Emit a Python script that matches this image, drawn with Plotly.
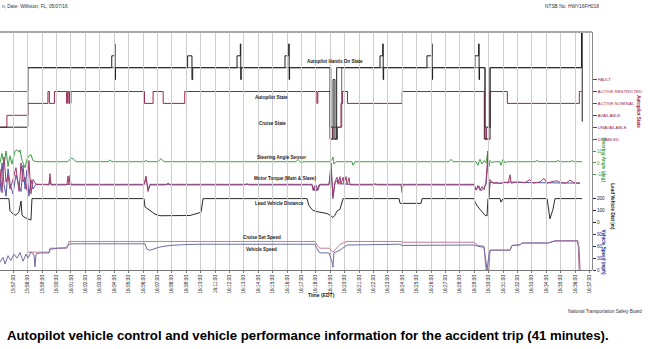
import plotly.graph_objects as go

# ---------------- time axis (minutes from first tick) ----------------
TICK_LABELS = [
    "15:56:00", "15:57:00", "15:58:00", "15:59:00", "16:00:00", "16:01:00", "16:02:00",
    "16:03:00", "16:04:00", "16:05:00", "16:06:00", "16:07:00", "16:08:00", "16:09:00",
    "16:10:00", "16:11:00", "16:12:00", "16:13:00", "16:14:00", "16:15:00", "16:16:00",
    "16:17:00", "16:18:00", "16:19:00", "16:20:00", "16:21:00", "16:22:00", "16:23:00",
    "16:24:00", "16:25:00", "16:26:00", "16:27:00", "16:28:00", "16:29:00", "16:30:00",
    "16:31:00", "16:32:00", "16:33:00", "16:34:00", "16:35:00", "16:36:00", "16:37:00",
]
TICK_POS = list(range(len(TICK_LABELS)))

# ---------------- Autopilot Hands On State ----------------
HANDS_T = [0.07, 2.0, 7.83, 8.03, 8.06, 8.09, 13.1, 13.4, 13.45, 16.53, 16.76, 16.79, 16.82,
           19.86, 20.12, 20.15, 20.18, 22.99, 23.2, 23.33, 23.45, 26.46, 26.65, 26.68, 26.71,
           29.72, 30.05, 30.08, 30.11, 33.05, 33.31, 33.34, 33.37, 33.75, 34.1, 40.45, 40.5, 40.55]
HANDS_V = [-4, 1, 2, 3, 0, 1, 2, 0, 1, 2, 3, 0, 1,
           2, 3, 0, 1, -5, 0, -5, 1, 2, 3, 0, 1,
           2, 3, 0, 1, 2, 3, 0, 1, -5, 1, 4, -3.5, -3.5]

# ---------------- Autopilot State (0 = DISABLED ... 5 = FAULT) ----------------
AP_STATES = ["DISABLED", "UNAVAILABLE", "AVAILABLE", "ACTIVE NOMINAL", "ACTIVE RESTRICTED", "FAULT"]
AP_T = [0.07, 0.55, 2.0, 3.4, 3.5, 3.85, 4.7, 4.75, 4.85, 4.9, 4.95, 5.0, 10.1, 10.7, 11.4, 12.9,
        22.08, 22.14, 23.0, 23.15, 23.5, 23.75, 23.85, 24.2, 28.0, 33.7, 33.85, 34.1, 35.3, 40.3, 40.45]
AP_V = [1, 2, 3, 4, 3, 4, 3, 4, 3, 4, 3, 4, 3, 4, 3, 4,
        3, 4, 1, 0, 1, 3, 4, 3, 4, 0, 1, 4, 3, 4, 4]

# ---------------- Cruise State ----------------
CRUISE_T = [0.07, 2.0, 23.05, 23.8, 33.75, 34.1, 40.45]
CRUISE_V = [4, 6, 1, 6, 1, 6, 6]

# ---------------- Steering Angle Sensor (deg) ----------------
STEER_T = [0.07, 0.21, 0.35, 0.49, 0.63, 0.76, 0.9, 1.11, 1.25, 1.39, 1.46, 1.6, 1.81, 1.94, 2.08,
           2.22, 2.36, 2.57, 2.85, 4.79, 5.0, 5.14, 5.35, 7.57, 7.71, 7.85, 10.07, 10.21, 10.35,
           11.04, 11.25, 11.46, 20.63, 20.76, 20.97, 21.11, 22.99, 23.13, 23.19, 23.26, 23.4,
           24.51, 24.58, 24.72, 31.25, 31.39, 31.53, 33.13, 33.26, 33.4, 33.54, 33.68, 33.82,
           33.96, 34.03, 34.1, 34.24, 34.38, 34.79, 34.86, 35.0, 35.14, 35.28, 37.22, 37.36,
           37.5, 38.68, 38.82, 38.96, 39.65, 39.79, 39.93, 40.49]
STEER_V = [0, 8, -2, 10, -3, 6, -1, 10, 11, 9, 11, 2, -4, 3, 6,
           7, 2, 1, 1, 1, 4, 3.5, 1, 1, 2.5, 1, 1, 2, 1,
           1, 3.5, 1, 1, 3, 0, 1, 1, 3, 5, -1, 1,
           1, -2, 1, 1, 3, 1, 1, -2, 3, -1, 2, 0,
           10, -3, 2, 0, 1, 1, -2, 3, 0, 1, 1, 2,
           1, 1, 2, 1, 1, 2, 1, 1]

# ---------------- Motor Torque (Main & Slave) ----------------
TQ_MAIN_T = [0.07, 0.21, 0.35, 0.49, 0.63, 0.76, 0.97, 1.18, 1.39, 1.53, 1.67, 1.81, 1.94, 2.08,
             2.22, 2.36, 2.57, 3.47, 3.54, 3.61, 4.72, 4.79, 4.86, 4.93, 5.0, 10.07, 10.21, 10.35,
             10.49, 11.6, 11.74, 11.88, 17.08, 17.22, 17.36, 21.74, 21.81, 21.94, 22.08, 22.22,
             22.92, 23.06, 23.19, 23.33, 23.47, 23.54, 23.68, 23.75, 23.89, 23.96, 24.1, 24.17,
             24.31, 24.38, 25.97, 26.11, 26.25, 27.92, 27.99, 28.06, 32.99, 33.13, 33.26, 33.4,
             33.54, 33.68, 33.82, 33.96, 34.03, 34.1, 34.31, 34.58, 34.79, 35.07, 35.35, 35.49,
             35.56, 36.04, 36.53, 36.87, 37.08, 37.57, 37.85, 38.06, 38.47, 38.75, 38.96, 39.38,
             39.65, 39.93, 40.21, 40.35]
TQ_MAIN_V = [150, -50, 250, 40, 100, -20, 60, 160, -40, 200, 40, 80, -30, 220,
             -60, 60, 20, 15, 110, 15, 15, 90, 15, 95, 15, 15, 90, -40,
             15, 15, 30, 15, 15, 25, 15, 15, -30, 10, -35, 15,
             15, 150, -80, 40, 80, 20, 85, 20, 80, 25, 85, 20,
             75, 15, 15, 25, 15, 15, -50, 15, 15, -30, 10, -30,
             0, -25, 40, 300, -90, 60, 30, 35, 25, 40, 30, 100,
             30, 40, 35, 60, 30, 40, 70, 30, 45, 50, 35, 30,
             55, 35, 30, 30]
TQ_SLAVE_T = [0.07, 0.21, 0.35, 0.49, 0.63, 0.76, 0.97, 1.18, 1.39, 1.53, 1.67, 1.81, 1.94, 2.08,
              2.22, 2.36, 2.57, 3.47, 3.54, 3.61, 10.07, 10.21, 10.35, 10.49, 21.74, 21.88, 22.01,
              22.15, 22.29, 22.92, 23.06, 23.19, 23.33, 23.54, 23.68, 24.38, 32.99, 33.13, 33.33,
              33.47, 33.68, 33.82, 33.96, 34.03, 34.1, 34.38, 34.79, 35.49, 36.18, 40.35]
TQ_SLAVE_V = [-40, 200, 20, -80, 150, 30, -60, 100, 10, -40, 180, -20, 140, -80,
              60, -20, 20, 20, 60, 20, 20, 60, -20, 20, 20, -35, 15,
              -30, 20, 20, 200, -100, 30, 60, 25, 20, 20, -25, 5,
              -35, -10, 20, 220, -70, 40, 30, 30, 40, 35, 30]

# ---------------- Lead Vehicle Distance (m) ----------------
LEAD_T = [0.07, 0.69, 0.76, 0.97, 1.18, 1.39, 1.53, 1.6, 1.81, 2.01, 2.22, 2.29,
          10.07, 10.14, 10.49, 10.83, 11.18, 12.22, 13.26, 13.75, 14.03, 14.17,
          21.39, 21.53, 21.81, 22.29, 22.78, 23.06, 23.19, 23.33, 23.47, 23.68, 23.89,
          27.78, 27.85, 29.31, 29.38, 32.99, 33.06, 33.26, 33.47, 33.75, 33.89, 33.96,
          34.79, 34.86, 35.0, 38.06, 38.26, 38.47, 38.61, 40.49]
LEAD_V = [200, 200, 100, 70, 60, 90, 180, 60, 40, 30, 20, 200,
          200, 130, 100, 70, 56, 55, 58, 75, 85, 200,
          200, 140, 100, 85, 75, 55, 40, 60, 95, 110, 200,
          200, 160, 160, 200, 200, 170, 130, 100, 60, 55, 200,
          200, 170, 200, 200, 30, 110, 200, 200]

# ---------------- Cruise Set Speed / Vehicle Speed (mph) ----------------
SET_T = [2.01, 3.47, 3.54, 4.72, 4.86, 21.94, 22.15, 22.29, 22.92, 23.19, 23.68, 24.17,
         27.85, 27.99, 32.99, 33.26, 33.68, 33.82, 34.03, 34.1, 35.49, 35.63, 36.18, 36.32,
         38.13, 38.4, 38.61, 40.14, 40.21, 40.28]
SET_V = [45, 45, 55, 55, 72, 72, 60, 55, 55, 45, 65, 72,
         72, 70, 70, 62, 60, 0, 0, 50, 50, 62, 64, 68,
         68, 71, 74, 74, 74, 0]
SPEED_T = [0.07, 0.28, 0.42, 0.63, 0.83, 1.04, 1.25, 1.46, 1.67, 1.88, 2.01, 2.22, 2.43, 2.5,
           2.57, 2.85, 3.47, 3.54, 4.1, 4.65, 4.79, 4.93, 5.07, 10.14, 10.28, 10.49, 11.18,
           11.88, 12.92, 13.96, 21.94, 22.22, 22.36, 22.92, 23.13, 23.19, 23.26, 23.68, 24.17,
           27.85, 27.99, 32.99, 33.26, 33.68, 33.82, 33.89, 34.03, 34.1, 35.49, 35.63, 36.18,
           36.32, 38.13, 38.4, 38.61, 40.14, 40.28, 40.35]
SPEED_V = [20, 32, 15, 36, 24, 40, 30, 44, 22, 40, 30, 45, 38, 8,
           40, 43, 43, 52, 55, 56, 62, 66, 66, 66, 52, 50, 58,
           62, 64, 65, 65, 45, 43, 43, 20, 7, 43, 50, 63,
           65, 62, 63, 60, 57, 20, 0, 40, 50, 50, 62, 63,
           68, 68, 71, 73, 73, 58, 0]

# ---------------- colours & fonts ----------------
C_HANDS = "#1e1e1e"
C_AP = "#9a2350"
C_CRUISE = "#666666"
C_STEER = "#3f9f45"
C_TQ_MAIN = "#a23a6a"
C_TQ_SLAVE = "#5555a5"
C_LEAD = "#2a2a2a"
C_SET = "#c27a9a"
C_SPEED = "#6e6ea2"
C_SPEED_AXIS = "#2b2b85"
C_GRID = "#cdcdcd"
FONT = "Liberation Sans, Arial, sans-serif"

fig = go.Figure()


def add(t, v, color, axis, shape="linear", width=1):
    fig.add_trace(go.Scatter(x=t, y=v, mode="lines", yaxis=axis,
                             line=dict(color=color, width=width, shape=shape),
                             hoverinfo="skip", showlegend=False))


# overlaid axes are painted in axis order: cruise (y2) < autopilot (y3) < hands on (y4) ...
add(CRUISE_T, CRUISE_V, C_CRUISE, "y2", "hv")
add(AP_T, AP_V, C_AP, "y3", "hv")
add(HANDS_T, HANDS_V, C_HANDS, "y4", "hv")
add(STEER_T, STEER_V, C_STEER, "y5")
add(TQ_SLAVE_T, TQ_SLAVE_V, C_TQ_SLAVE, "y6")
add(TQ_MAIN_T, TQ_MAIN_V, C_TQ_MAIN, "y6")
add(LEAD_T, LEAD_V, C_LEAD, "y7")
add(SET_T, SET_V, C_SET, "y8")
add(SPEED_T, SPEED_V, C_SPEED, "y8")

HIDDEN = dict(overlaying="y", visible=False, fixedrange=True)


def right_axis(rng, vals, texts, color, size=4.6, ticklen=3):
    return dict(overlaying="y", side="right", range=rng, tickmode="array",
                tickvals=vals, ticktext=texts, showgrid=False, zeroline=False,
                ticks="outside", ticklen=ticklen, tickcolor=color, tickwidth=1,
                fixedrange=True, tickfont=dict(family=FONT, size=size, color=color))


fig.update_layout(
    width=648, height=349,
    margin=dict(l=0, r=56, t=32, b=79),
    paper_bgcolor="white", plot_bgcolor="rgba(0,0,0,0)",
    xaxis=dict(range=[0.07, 41.18], tickmode="array", tickvals=TICK_POS, ticktext=TICK_LABELS,
               tickangle=-90, tickfont=dict(family=FONT, size=4.8, color="#222"),
               showgrid=True, gridcolor=C_GRID, gridwidth=1, zeroline=False,
               showline=True, linecolor="#777", linewidth=1,
               ticks="outside", ticklen=2, tickcolor="#777", fixedrange=True),
    yaxis=dict(range=[0, 20], dtick=1, showgrid=True, gridcolor=C_GRID, gridwidth=1,
               showticklabels=False, zeroline=False, fixedrange=True),
    yaxis2=dict(HIDDEN, range=[-11, 9]),
    yaxis3=dict(right_axis([-11, 9], list(range(6)), AP_STATES, C_AP, size=4.3, ticklen=4),
                showline=True, linecolor="#8a8a8a", linewidth=1),
    yaxis4=dict(HIDDEN, range=[-16, 4]),
    yaxis5=right_axis([-90, 110], [-10, 0, 10], ["-10", "0", "10"], C_STEER),
    yaxis6=dict(HIDDEN, range=[-700, 1300]),
    yaxis7=right_axis([-400, 1600], [0, 100, 200], ["0", "100", "200"], "#222"),
    yaxis8=right_axis([0, 600], [0, 30, 60, 90], ["0", "30", "60", "90"], C_SPEED_AXIS),
)

# heavier top edge of the plotting frame
fig.add_shape(type="line", xref="paper", yref="paper", x0=0, x1=1, y0=1, y1=1,
              line=dict(color="#a8a8a8", width=2))


def py(pixel_y):
    # paper fraction for a pixel row of the figure
    return (270 - pixel_y) / 238


ann = []


def label(x, y, text, size=4.6, color="#1a1a1a", bold=True, angle=0, anchor="center",
          xref="x", family=FONT):
    t = f"<b>{text}</b>" if bold else text
    ann.append(dict(x=x, y=y, xref=xref, yref="paper", text=t, showarrow=False, textangle=angle,
                    xanchor=anchor, yanchor="middle",
                    font=dict(family=family, size=size, color=color)))


# trace names written inside the plot
label(23.35, py(61), "Autopilot Hands On State")
label(18.95, py(97), "Autopilot State")
label(19.0, py(124), "Cruise State")
label(19.65, py(157), "Steering Angle Sensor")
label(19.85, py(178), "Motor Torque (Main &amp; Slave)")
label(19.5, py(203), "Lead Vehicle Distance")
label(18.25, py(237), "Cruise Set Speed")
label(18.25, py(249), "Vehicle Speed")
label(22.4, py(295), "Time (EDT)", size=5)

# right-hand axis titles
label(1.079, py(112), "Autopilot State", color=C_AP, angle=90, xref="paper")
label(1.02, py(160), "Steering Angle (deg)", color=C_STEER, angle=90, xref="paper")
label(1.035, py(207), "Lead Vehicle Dist (m)", color="#222", angle=90, xref="paper")
label(1.021, py(252), "Vehicle Speed (mph)", color=C_SPEED_AXIS, angle=90, xref="paper")

# page header and footer
label(0, py(7), "n, Date: Williston, FL, 05/07/16", size=4.8, color="#333", bold=False,
      anchor="left", xref="paper")
label(0.917, py(7), "NTSB No. HWY16FH018", size=4.8, color="#333", bold=False,
      anchor="left", xref="paper")
label(1.088, py(311), "National Transportation Safety Board", size=4.5, color="#333",
      bold=False, anchor="right", xref="paper")
label(0.008, py(335),
      "Autopilot vehicle control and vehicle performance information for the accident trip (41 minutes).",
      size=13.2, color="#000", anchor="left", xref="paper")

fig.update_layout(annotations=ann)
fig.write_html("out.html")
